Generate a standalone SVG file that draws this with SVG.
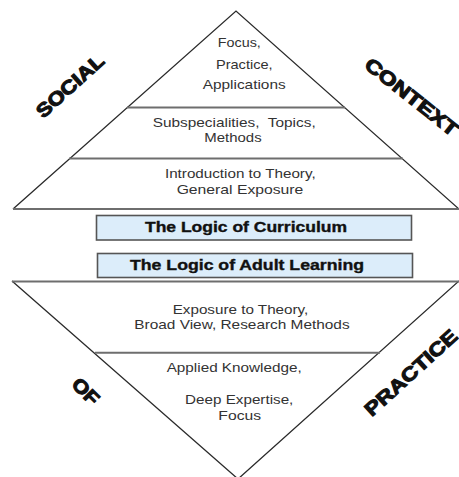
<svg xmlns="http://www.w3.org/2000/svg" width="459" height="477" viewBox="0 0 459 477">
  <style>
    .edge { fill: none; stroke: #2a2a2a; stroke-width: 1.3; }
    .rule { stroke: #6e6e6e; stroke-width: 2; }
    .box { fill: #dcedfa; stroke: #555; stroke-width: 1.6; }
    .lbl { font-family: "Liberation Sans", Arial, sans-serif; font-size: 13px; fill: #333; text-anchor: middle; }
    .head { font-family: "Liberation Sans", Arial, sans-serif; font-size: 14px; font-weight: bold; fill: #111; stroke: #111; stroke-width: 0.35; text-anchor: middle; }
    .side { font-family: "Liberation Sans", Arial, sans-serif; font-size: 19px; font-weight: bold; fill: #111; stroke: #111; stroke-width: 1.1; text-anchor: middle; }
  </style>
  <rect width="459" height="477" fill="#fff"/>

  <!-- upper pyramid -->
  <g id="upper-pyramid">
    <polyline class="edge" points="13,209 236,11 459,209"/>
    <line class="rule" x1="127" y1="107.5" x2="345" y2="107.5"/>
    <line class="rule" x1="69" y1="158.5" x2="403" y2="158.5"/>
    <line class="rule" x1="13" y1="209" x2="459" y2="209"/>
  </g>
  <g id="tier-focus">
    <text class="lbl" x="239.3" y="47" textLength="43" lengthAdjust="spacingAndGlyphs">Focus,</text>
    <text class="lbl" x="244.3" y="69" textLength="56.7" lengthAdjust="spacingAndGlyphs">Practice,</text>
    <text class="lbl" x="244.2" y="89" textLength="83" lengthAdjust="spacingAndGlyphs">Applications</text>
  </g>
  <g id="tier-subspecialities">
    <text class="lbl" x="234.2" y="127.3" textLength="163" lengthAdjust="spacingAndGlyphs" xml:space="preserve">Subspecialities,  Topics,</text>
    <text class="lbl" x="233" y="141.7" textLength="57.3" lengthAdjust="spacingAndGlyphs">Methods</text>
  </g>
  <g id="tier-introduction">
    <text class="lbl" x="240.3" y="178.3" textLength="150.7" lengthAdjust="spacingAndGlyphs">Introduction to Theory,</text>
    <text class="lbl" x="240" y="194" textLength="126.7" lengthAdjust="spacingAndGlyphs">General Exposure</text>
  </g>

  <!-- central banners -->
  <g id="logic-curriculum">
    <rect class="box" x="96.5" y="215.5" width="315" height="24.5"/>
    <text class="head" x="246" y="231.7" textLength="202" lengthAdjust="spacingAndGlyphs">The Logic of Curriculum</text>
  </g>
  <g id="logic-adult-learning">
    <rect class="box" x="97.5" y="253.5" width="315" height="24"/>
    <text class="head" x="247" y="270" textLength="234" lengthAdjust="spacingAndGlyphs">The Logic of Adult Learning</text>
  </g>

  <!-- lower inverted pyramid -->
  <g id="lower-pyramid">
    <polyline class="edge" points="12,281 238,479 459,281"/>
    <line class="rule" x1="12" y1="281.5" x2="459" y2="281.5"/>
    <line class="rule" x1="95" y1="352.7" x2="380" y2="352.7"/>
  </g>
  <g id="tier-exposure">
    <text class="lbl" x="240.5" y="314" textLength="135.7" lengthAdjust="spacingAndGlyphs">Exposure to Theory,</text>
    <text class="lbl" x="242" y="329.3" textLength="215.3" lengthAdjust="spacingAndGlyphs">Broad View, Research Methods</text>
  </g>
  <g id="tier-applied">
    <text class="lbl" x="234.2" y="371.7" textLength="135" lengthAdjust="spacingAndGlyphs">Applied Knowledge,</text>
    <text class="lbl" x="239.2" y="404.3" textLength="108.3" lengthAdjust="spacingAndGlyphs">Deep Expertise,</text>
    <text class="lbl" x="239.7" y="420" textLength="42.7" lengthAdjust="spacingAndGlyphs">Focus</text>
  </g>

  <!-- surrounding words: social context of practice -->
  <g id="word-social" transform="translate(69.8,85.8) rotate(-42)">
    <text class="side" x="0" y="6.8" textLength="84" lengthAdjust="spacingAndGlyphs">SOCIAL</text>
  </g>
  <g id="word-context" transform="translate(411.7,96.7) rotate(38.4)">
    <text class="side" x="0" y="6.8" textLength="113" lengthAdjust="spacingAndGlyphs">CONTEXT</text>
  </g>
  <g id="word-of" transform="translate(85.8,391.2) rotate(45)">
    <text class="side" x="0" y="6.8" textLength="30" lengthAdjust="spacingAndGlyphs">OF</text>
  </g>
  <g id="word-practice" transform="translate(410.8,372.5) rotate(-42.4)">
    <text class="side" x="0" y="6.8" textLength="118" lengthAdjust="spacingAndGlyphs">PRACTICE</text>
  </g>
</svg>
